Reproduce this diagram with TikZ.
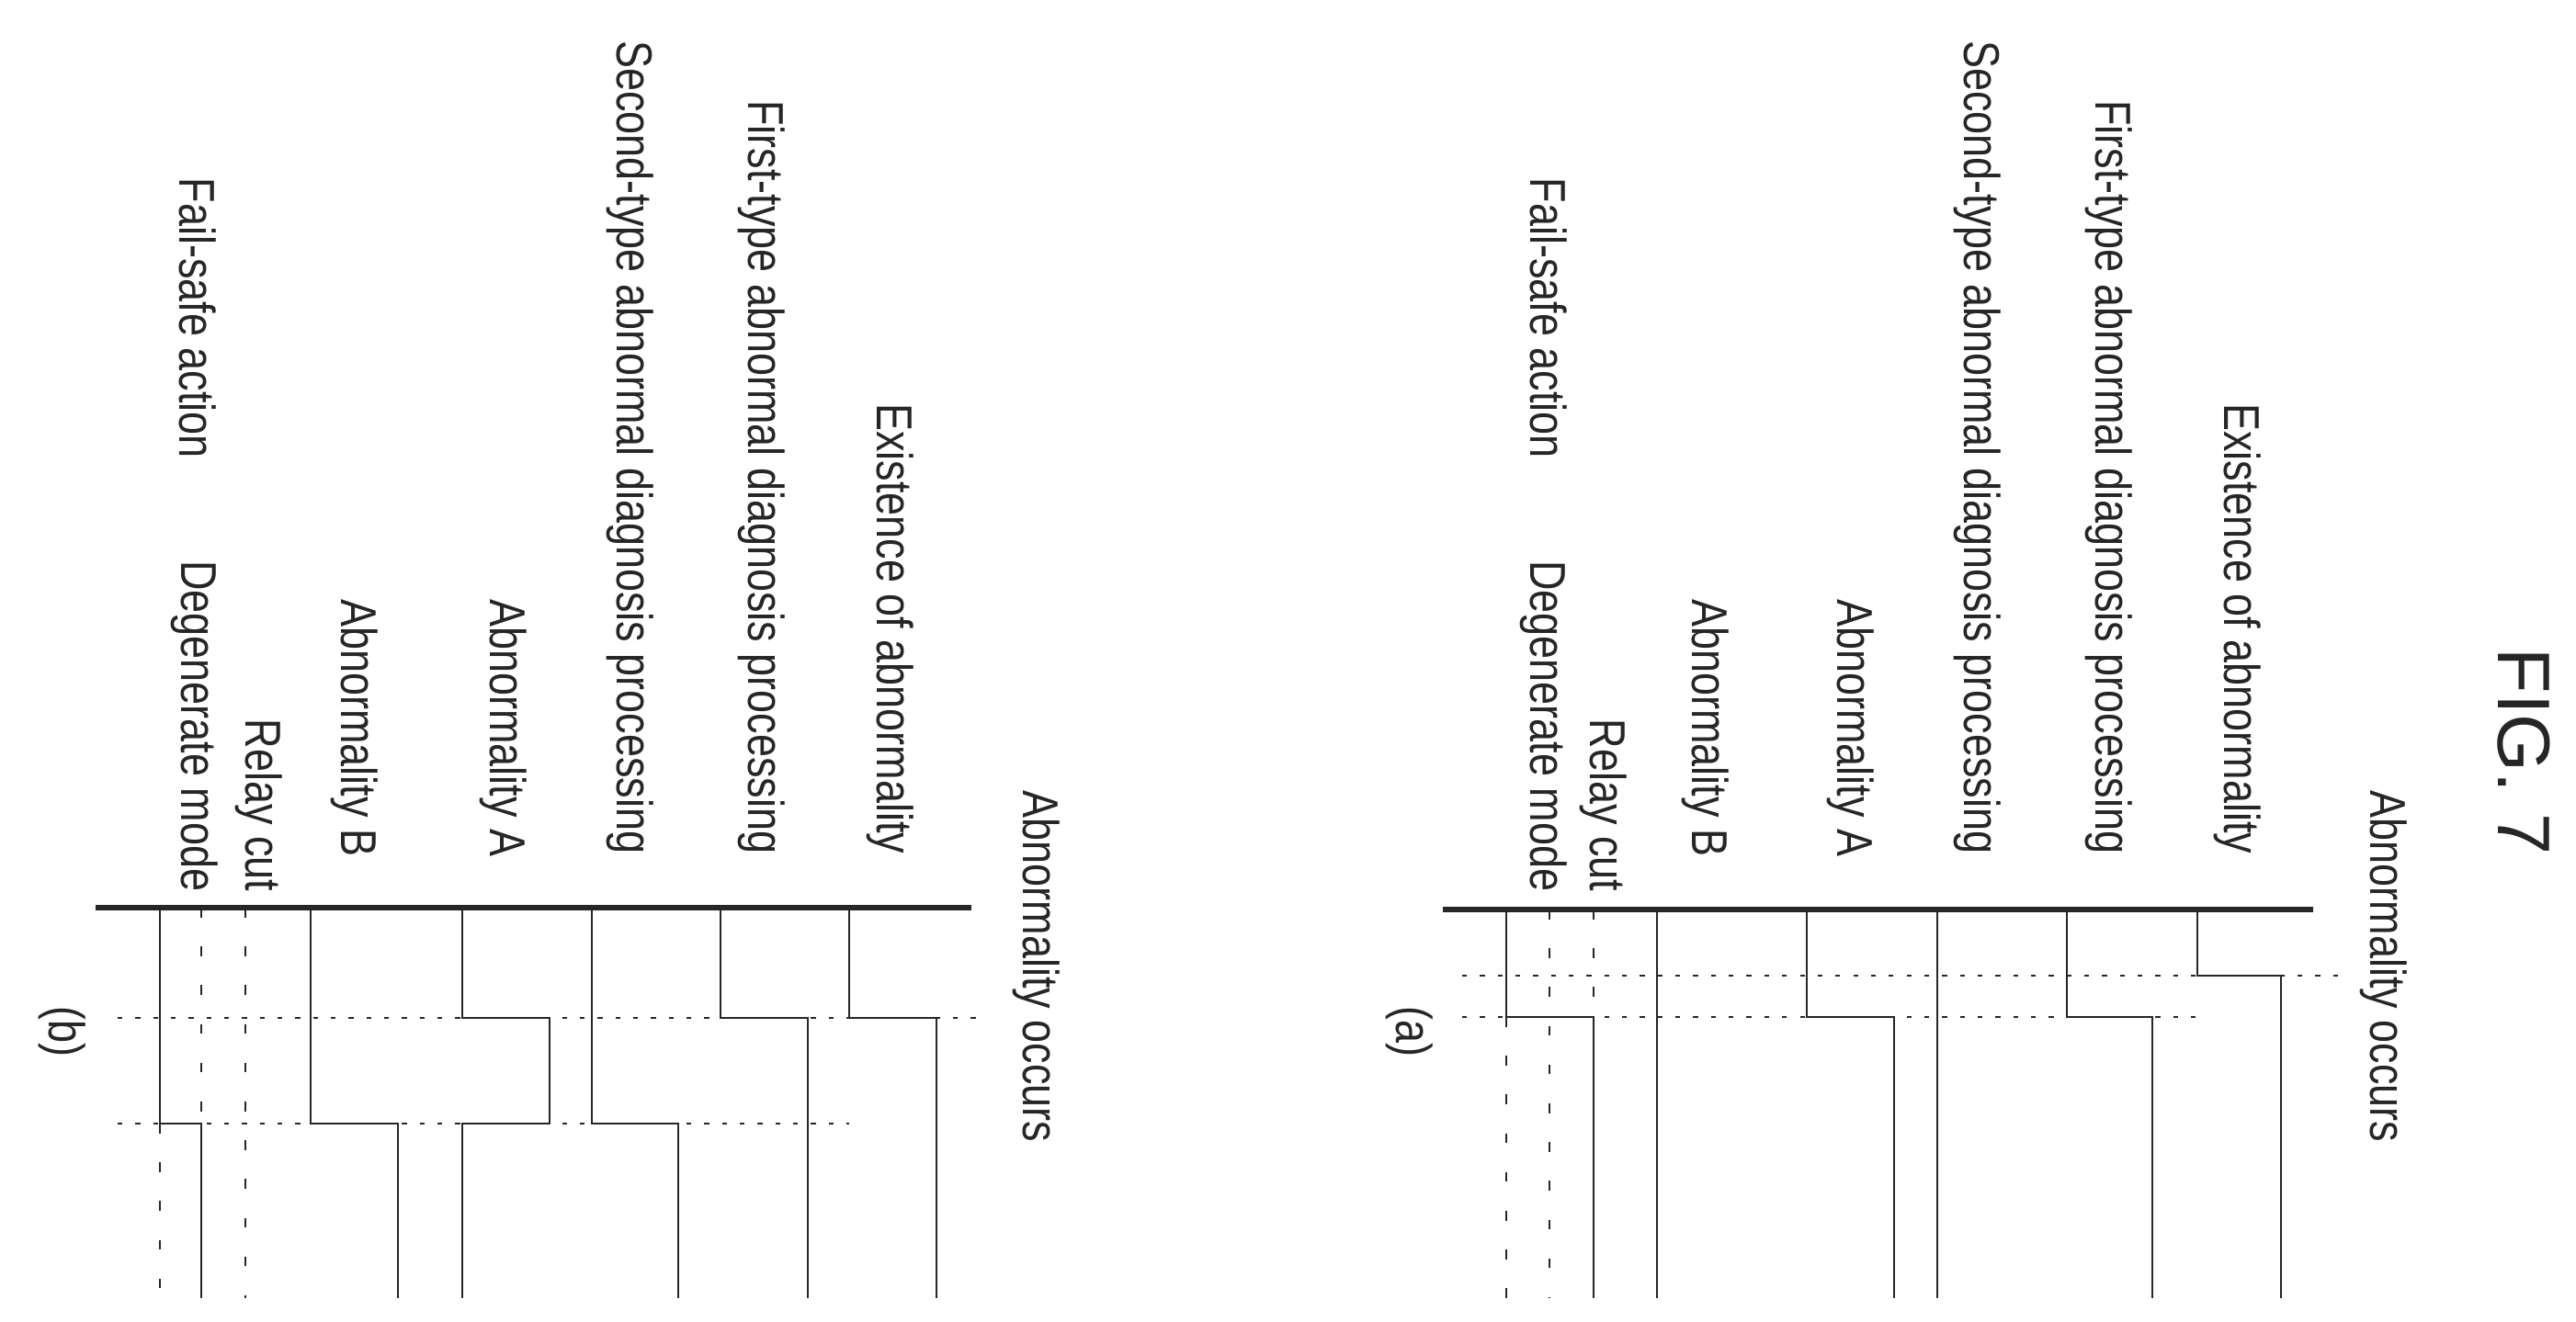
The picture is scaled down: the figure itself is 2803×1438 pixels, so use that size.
\documentclass[tikz,border=0pt]{standalone}
\usepackage{fontspec}
\setmainfont{Liberation Sans}
\newfontfamily\narrowfont[FakeStretch=0.82]{Liberation Sans}
\begin{document}
\begin{tikzpicture}[x=0.01cm,y=-0.01cm,
  lab/.style={rotate=-90,inner sep=0pt,font=\narrowfont\fontsize{15.6}{17}\selectfont,text=black!85},
  sig/.style={line width=0.8pt,black!85},
  axis/.style={line width=1.6pt,black!85},
  tmark/.style={line width=0.8pt,black!85,dash pattern=on 1.5pt off 4pt},
  guide/.style={line width=0.8pt,black!85,dash pattern=on 3pt off 9pt}]
\useasboundingbox (0,0) rectangle (2803,1438);
\node[rotate=-90,inner sep=0pt,font=\fontsize{23}{26}\selectfont,text=black!85] (fig) at (2746,818) {FIG. 7};
% ---------------- panel (a) ----------------
\begin{scope}
\node[lab,anchor=west] (aocc) at (2594,860) {Abnormality occurs};
\node[lab,anchor=east] (aex) at (2435,930) {Existence of abnormality};
\node[lab,anchor=east] (af) at (2295,930) {First-type abnormal diagnosis processing};
\node[lab,anchor=east] (as) at (2152,930) {Second-type abnormal diagnosis processing};
\node[lab,anchor=east] (aa) at (2014,933) {Abnormality A};
\node[lab,anchor=east] (ab) at (1856,933) {Abnormality B};
\node[lab,anchor=east] (ar) at (1745,971) {Relay cut};
\node[lab,anchor=east] (ad) at (1680,971) {Degenerate mode};
\node[lab,anchor=west] (afs) at (1685,193) {Fail-safe action};
\node[lab] (apan) at (1534,1123) {(a)};
\draw[axis] (1570,990) -- (2517,990);
\draw[tmark] (1591,1062) -- (2545,1062);
\draw[tmark] (1591,1107) -- (2391,1107);
\draw[sig] (2391,990) -- (2391,1062) -- (2482,1062) -- (2482,1413);
\draw[sig] (2249,990) -- (2249,1107) -- (2342,1107) -- (2342,1413);
\draw[sig] (2108,990) -- (2108,1413);
\draw[sig] (1966,990) -- (1966,1107) -- (2061,1107) -- (2061,1413);
\draw[sig] (1803,990) -- (1803,1413);
\draw[guide] (1734,990) -- (1734,1107);
\draw[guide] (1686,990) -- (1686,1413);
\draw[guide] (1639,1107) -- (1639,1413);
\draw[sig] (1639,990) -- (1639,1107) -- (1734,1107) -- (1734,1413);
\end{scope}
% ---------------- panel (b) ----------------
\begin{scope}
\node[lab,anchor=west] (bocc) at (1128,860) {Abnormality occurs};
\node[lab,anchor=east] (bex) at (969,930) {Existence of abnormality};
\node[lab,anchor=east] (bf) at (829,930) {First-type abnormal diagnosis processing};
\node[lab,anchor=east] (bs) at (686,930) {Second-type abnormal diagnosis processing};
\node[lab,anchor=east] (ba) at (548,933) {Abnormality A};
\node[lab,anchor=east] (bb) at (386,933) {Abnormality B};
\node[lab,anchor=east] (br) at (282,971) {Relay cut};
\node[lab,anchor=east] (bd) at (212,971) {Degenerate mode};
\node[lab,anchor=west] (bfs) at (215,193) {Fail-safe action};
\node[lab] (bpan) at (68,1123) {(b)};
\draw[axis] (104,988) -- (1057,988);
\draw[tmark] (128,1108) -- (1075,1108);
\draw[tmark] (128,1223) -- (924,1223);
\draw[sig] (924,988) -- (924,1108) -- (1019,1108) -- (1019,1413);
\draw[sig] (784,988) -- (784,1108) -- (879,1108) -- (879,1413);
\draw[sig] (644,988) -- (644,1223) -- (738,1223) -- (738,1413);
\draw[sig] (503,988) -- (503,1108) -- (598,1108) -- (598,1223) -- (503,1223) -- (503,1413);
\draw[sig] (338,988) -- (338,1223) -- (433,1223) -- (433,1413);
\draw[guide] (267,988) -- (267,1413);
\draw[guide] (219,988) -- (219,1223);
\draw[guide] (174,1223) -- (174,1413);
\draw[sig] (174,988) -- (174,1223) -- (219,1223) -- (219,1413);
\end{scope}
\end{tikzpicture}
\end{document}
